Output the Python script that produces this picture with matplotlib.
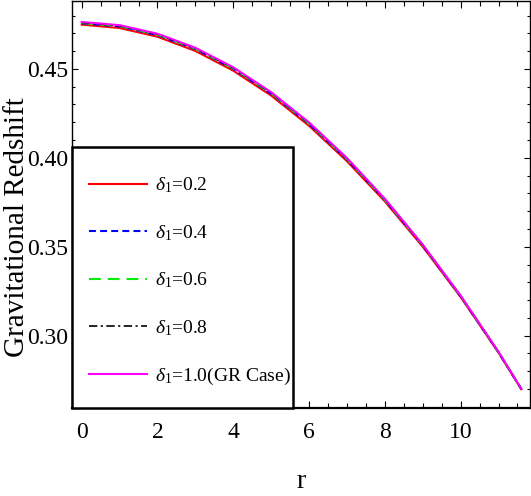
import matplotlib
matplotlib.use("Agg")
import matplotlib.pyplot as plt
from matplotlib.patches import Rectangle
from matplotlib.ticker import MultipleLocator, FormatStrFormatter

# values
r = [0, 1, 2, 3, 4, 5, 6, 7, 8, 9, 10, 11, 11.6]
z_d02 = [0.4749, 0.4730, 0.4681, 0.4601, 0.4490, 0.4350, 0.4180, 0.3981, 0.3755, 0.3500, 0.3217, 0.2904, 0.2699]
z_d04 = [0.4757, 0.4739, 0.4690, 0.4611, 0.4500, 0.4360, 0.4190, 0.3991, 0.3763, 0.3507, 0.3221, 0.2906, 0.2700]
z_d06 = [0.4759, 0.4741, 0.4693, 0.4614, 0.4503, 0.4363, 0.4193, 0.3994, 0.3765, 0.3508, 0.3222, 0.2907, 0.2700]
z_d08 = [0.4761, 0.4743, 0.4695, 0.4616, 0.4506, 0.4366, 0.4196, 0.3996, 0.3767, 0.3510, 0.3223, 0.2908, 0.2701]
z_gr = [0.4764, 0.4746, 0.4698, 0.4619, 0.4509, 0.4369, 0.4199, 0.3999, 0.3770, 0.3512, 0.3225, 0.2909, 0.2701]
labels = [r"$\delta_1$=0.2", r"$\delta_1$=0.4", r"$\delta_1$=0.6",
          r"$\delta_1$=0.8", r"$\delta_1$=1.0(GR Case)"]

plt.rcParams["font.family"] = ["Liberation Serif", "DejaVu Serif"]
plt.rcParams["mathtext.fontset"] = "custom"
plt.rcParams["mathtext.rm"] = "Liberation Serif"
plt.rcParams["mathtext.it"] = "Liberation Serif:italic"
plt.rcParams["lines.scale_dashes"] = False

fig = plt.figure(figsize=(5.31, 4.96), dpi=100)
ax = fig.add_axes([0.1356, 0.1774, 0.8625, 0.8206])

ax.plot(r, z_d02, color="#ff0000", lw=1.5, label=labels[0])
ax.plot(r, z_d04, color="#0000ff", lw=1.5, dashes=(5, 3), label=labels[1])
ax.plot(r, z_d06, color="#00ee00", lw=1.5, dashes=(8.5, 5), label=labels[2])
ax.plot(r, z_d08, color="black", lw=1.2, dashes=(6, 2.5, 1.5, 2.5), label=labels[3])
ax.plot(r, z_gr, color="#ff00ff", lw=1.5, label=labels[4])

ax.set_xlim(-0.256, 11.83)
ax.set_ylim(0.2593, 0.4882)
ax.xaxis.set_major_locator(MultipleLocator(2))
ax.xaxis.set_minor_locator(MultipleLocator(0.5))
ax.yaxis.set_major_locator(MultipleLocator(0.05))
ax.yaxis.set_minor_locator(MultipleLocator(0.01))
ax.yaxis.set_major_formatter(FormatStrFormatter("%.2f"))

ax.tick_params(which="both", direction="in", top=True, right=True, width=0.8, labelsize=17)
ax.tick_params(axis="x", which="major", length=5, pad=10)
ax.tick_params(axis="x", which="minor", length=3.5)
ax.tick_params(axis="y", which="major", length=4, pad=3)
ax.tick_params(axis="y", which="minor", length=2.5)
for side in ["left", "top", "right"]:
    ax.spines[side].set_linewidth(1.0)
ax.spines["bottom"].set_linewidth(1.6)

ax.set_xlabel("r", fontsize=20, labelpad=19)
ax.set_ylabel("Gravitational Redshift", fontsize=21)
ax.yaxis.set_label_coords(-0.092, 0.445)

# legend box drawn as its own frame so the entries can sit as in the reference
ax.add_patch(Rectangle((0, 0), 0.4825, 0.641, transform=ax.transAxes,
                       facecolor="white", edgecolor="black", lw=1.8,
                       zorder=4, clip_on=False))
leg = ax.legend(loc="upper left", bbox_to_anchor=(0.016, 0.595), borderaxespad=0,
                fontsize=14, handlelength=3.0, handletextpad=0.4,
                labelspacing=1.43, borderpad=0.5, frameon=False)
leg.set_zorder(5)

fig.savefig("out.png", dpi=100)
